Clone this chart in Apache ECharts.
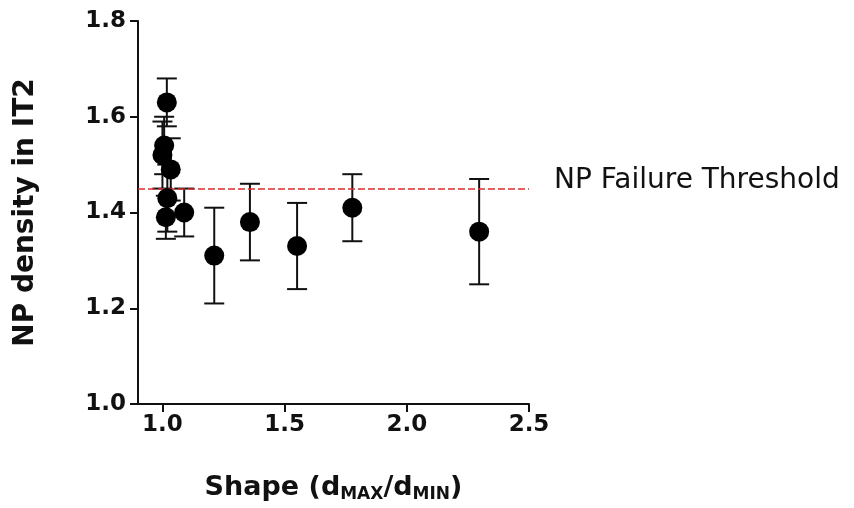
<!DOCTYPE html>
<html>
<head>
<meta charset="utf-8">
<script src="https://cdn.jsdelivr.net/npm/echarts@6/dist/echarts.min.js"></script>
<style>
html,body{margin:0;padding:0;background:#fff;}
#main{width:854px;height:508px;}
</style>
</head>
<body>
<div id="main"></div>
<script>
// Data
var shapeValues   = [1.00, 1.007, 1.018, 1.034, 1.020, 1.014, 1.089, 1.212, 1.358, 1.551, 1.777, 2.296];
var densityValues = [1.52, 1.54, 1.63, 1.49, 1.43, 1.39, 1.40, 1.31, 1.38, 1.33, 1.41, 1.36];
var densityErrors = [0.07, 0.06, 0.05, 0.065, 0.07, 0.045, 0.05, 0.10, 0.08, 0.09, 0.07, 0.11];
var thresholdValue = 1.445;
var thresholdLabel = 'NP Failure Threshold';
var xTickValues = [1.0, 1.5, 2.0, 2.5];
var yTickValues = [1.0, 1.2, 1.4, 1.6, 1.8];
var xAxisTitle = 'Shape (d{sub|MAX}/d{sub|MIN})';
var yAxisTitle = 'NP density in IT2';

var points = shapeValues.map(function (x, i) { return [x, densityValues[i]]; });
var errRows = shapeValues.map(function (x, i) {
  return [x, densityValues[i] - densityErrors[i], densityValues[i] + densityErrors[i]];
});

var chart = echarts.init(document.getElementById('main'), null, {renderer: 'canvas'});
var FONT = 'DejaVu Sans';

chart.setOption({
  animation: false,
  backgroundColor: '#ffffff',
  grid: {left: 138, right: 325, top: 21, bottom: 104, containLabel: false},
  xAxis: {
    type: 'value', min: 0.9, max: 2.5,
    splitLine: {show: false},
    axisLine: {show: true, onZero: false, lineStyle: {color: '#111', width: 2}},
    axisTick: {show: true, length: 8, lineStyle: {color: '#111', width: 2}, customValues: xTickValues},
    axisLabel: {
      customValues: xTickValues, margin: 10,
      fontFamily: FONT, fontWeight: 'bold', fontSize: 23, color: '#111',
      formatter: function (v) { return v.toFixed(1); }
    },
    name: xAxisTitle, nameLocation: 'middle', nameGap: 68,
    nameTextStyle: {
      fontFamily: FONT, fontWeight: 'bold', fontSize: 27, color: '#111',
      rich: {sub: {fontFamily: FONT, fontWeight: 'bold', fontSize: 17, color: '#111', verticalAlign: 'top', padding: [14, 0, 0, 0]}}
    }
  },
  yAxis: {
    type: 'value', min: 1.0, max: 1.8, interval: 0.2,
    splitLine: {show: false},
    axisLine: {show: true, onZero: false, lineStyle: {color: '#111', width: 2}},
    axisTick: {show: true, length: 8, lineStyle: {color: '#111', width: 2}, customValues: yTickValues},
    axisLabel: {
      customValues: yTickValues, margin: 12,
      fontFamily: FONT, fontWeight: 'bold', fontSize: 23, color: '#111',
      formatter: function (v) { return v.toFixed(1); }
    },
    name: yAxisTitle, nameLocation: 'middle', nameGap: 98, nameRotate: 90,
    nameTextStyle: {fontFamily: FONT, fontWeight: 'bold', fontSize: 28, color: '#111'}
  },
  series: [
    {
      type: 'custom',
      data: errRows,
      z: 1,
      encode: {x: 0, y: [1, 2]},
      renderItem: function (params, api) {
        var x = api.value(0);
        var lo = api.coord([x, api.value(1)]);
        var hi = api.coord([x, api.value(2)]);
        var hw = 10;
        var st = {stroke: '#111', lineWidth: 2};
        return {
          type: 'group',
          children: [
            {type: 'line', shape: {x1: lo[0], y1: lo[1], x2: hi[0], y2: hi[1]}, style: st},
            {type: 'line', shape: {x1: lo[0] - hw, y1: lo[1], x2: lo[0] + hw, y2: lo[1]}, style: st},
            {type: 'line', shape: {x1: hi[0] - hw, y1: hi[1], x2: hi[0] + hw, y2: hi[1]}, style: st}
          ]
        };
      }
    },
    {
      type: 'scatter',
      data: points,
      z: 3,
      symbol: 'circle',
      symbolSize: 20,
      itemStyle: {color: '#000', opacity: 1},
      markLine: {
        silent: true,
        symbol: ['none', 'none'],
        z: 2,
        lineStyle: {color: '#e02a2a', type: [7, 3], width: 1.5},
        label: {
          show: true, position: 'end', distance: 25, offset: [0, -8],
          formatter: thresholdLabel,
          fontFamily: FONT, fontSize: 28, color: '#111'
        },
        data: [{yAxis: thresholdValue}]
      }
    }
  ]
});
</script>
</body>
</html>
